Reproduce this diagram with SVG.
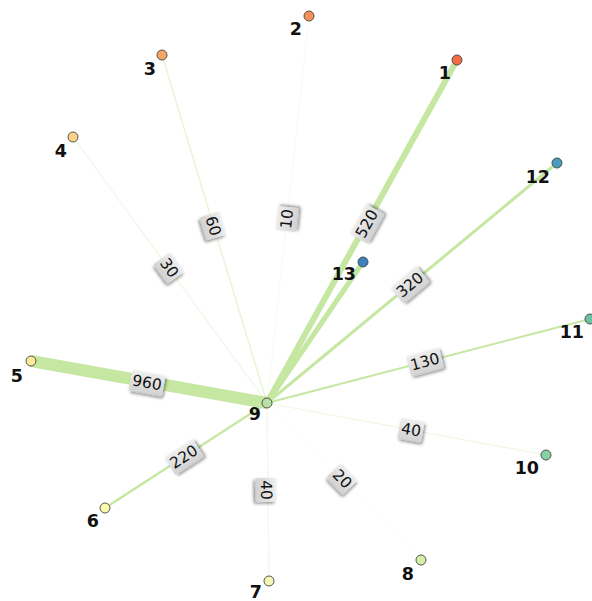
<svg xmlns="http://www.w3.org/2000/svg" width="592" height="601" viewBox="0 0 592 601">
<style>
.e{stroke:#c6e7a2;stroke-linecap:butt;fill:none}
.n circle{stroke:#444;stroke-width:0.9}
.n text{font-family:"DejaVu Sans",Verdana,sans-serif;font-weight:bold;font-size:17.5px;fill:#111;text-anchor:end}
.lb rect{fill:url(#g);filter:url(#sh)}
.lb text{font-family:"DejaVu Sans",Verdana,sans-serif;font-size:15.5px;fill:#111;text-anchor:middle;dominant-baseline:central}
</style>
<defs>
<linearGradient id="g" x1="0" y1="0" x2="0" y2="1"><stop offset="0" stop-color="#eeeeee"/><stop offset="1" stop-color="#d2d2d2"/></linearGradient>
<filter id="sh" x="-30%" y="-40%" width="170%" height="190%"><feDropShadow dx="1.5" dy="2" stdDeviation="1.5" flood-color="#000" flood-opacity="0.45"/></filter>
</defs>
<rect width="592" height="601" fill="#fff"/>
<g id="connectors">
<line class="e" x1="267" y1="403" x2="31" y2="361" stroke-width="12"/>
<line class="e" x1="267" y1="403" x2="457" y2="60" stroke-width="6"/>
<line class="e" x1="267" y1="403" x2="363" y2="262" stroke-width="5"/>
<line class="e" x1="267" y1="403" x2="557" y2="163" stroke-width="3"/>
<line class="e" x1="267" y1="403" x2="105" y2="508" stroke-width="2.5"/>
<line class="e" x1="267" y1="403" x2="590" y2="319" stroke-width="2"/>
<line class="e" x1="267" y1="403" x2="162" y2="55" stroke-width="1.3" opacity="0.45"/>
<line class="e" x1="267" y1="403" x2="546" y2="455" stroke-width="1.2" opacity="0.3"/>
<line class="e" x1="267" y1="403" x2="269" y2="581" stroke-width="1.2" opacity="0.25"/>
<line class="e" x1="267" y1="403" x2="73" y2="137" stroke-width="1.2" opacity="0.3"/>
<line class="e" x1="267" y1="403" x2="421" y2="560" stroke-width="1" opacity="0.06"/>
<line class="e" x1="267" y1="403" x2="309" y2="16" stroke-width="1" opacity="0.15"/>
<g class="lb">
<g transform="translate(147,383) rotate(10)"><rect x="-17" y="-10.5" width="34" height="21" rx="2"/><text>960</text></g>
<g transform="translate(367,224) rotate(-61)"><rect x="-17" y="-10.5" width="34" height="21" rx="2"/><text>520</text></g>
<g transform="translate(410,285) rotate(-40)"><rect x="-17" y="-10.5" width="34" height="21" rx="2"/><text>320</text></g>
<g transform="translate(184,457) rotate(-33)"><rect x="-17" y="-10.5" width="34" height="21" rx="2"/><text>220</text></g>
<g transform="translate(425,362) rotate(-15)"><rect x="-17" y="-10.5" width="34" height="21" rx="2"/><text>130</text></g>
<g transform="translate(213,226) rotate(73)"><rect x="-12" y="-10.5" width="24" height="21" rx="2"/><text>60</text></g>
<g transform="translate(287,219) rotate(-84)"><rect x="-12" y="-10.5" width="24" height="21" rx="2"/><text>10</text></g>
<g transform="translate(169,268) rotate(54)"><rect x="-12" y="-10.5" width="24" height="21" rx="2"/><text>30</text></g>
<g transform="translate(266,490) rotate(89)"><rect x="-12" y="-10.5" width="24" height="21" rx="2"/><text>40</text></g>
<g transform="translate(342,479) rotate(46)"><rect x="-12" y="-10.5" width="24" height="21" rx="2"/><text>20</text></g>
<g transform="translate(411,430) rotate(10)"><rect x="-12" y="-10.5" width="24" height="21" rx="2"/><text>40</text></g>
</g>
</g>
<g id="n1" class="n"><circle cx="457" cy="60" r="5" fill="#f46d43"/><text x="451" y="79">1</text></g>
<g id="n2" class="n"><circle cx="309" cy="16" r="5" fill="#f5905a"/><text x="302" y="35">2</text></g>
<g id="n3" class="n"><circle cx="162" cy="55" r="5" fill="#f9a561"/><text x="156" y="75">3</text></g>
<g id="n4" class="n"><circle cx="73" cy="137" r="5" fill="#fcd28a"/><text x="67" y="157">4</text></g>
<g id="n5" class="n"><circle cx="31" cy="361" r="5" fill="#fee89a"/><text x="23" y="382">5</text></g>
<g id="n6" class="n"><circle cx="105" cy="508" r="5" fill="#fbfbb0"/><text x="99" y="527">6</text></g>
<g id="n7" class="n"><circle cx="269" cy="581" r="5" fill="#f3f7b6"/><text x="262" y="598">7</text></g>
<g id="n8" class="n"><circle cx="421" cy="560" r="5" fill="#d7eea6"/><text x="414" y="580">8</text></g>
<g id="n9" class="n"><circle cx="267" cy="403" r="5" fill="#b6e2a3"/><text x="261" y="420">9</text></g>
<g id="n10" class="n"><circle cx="546" cy="455" r="5" fill="#87d2a4"/><text x="539" y="474">10</text></g>
<g id="n11" class="n"><circle cx="590" cy="319" r="5" fill="#6cc1a5"/><text x="584" y="338">11</text></g>
<g id="n12" class="n"><circle cx="557" cy="163" r="5" fill="#4a9bbd"/><text x="550" y="183">12</text></g>
<g id="n13" class="n"><circle cx="363" cy="262" r="5" fill="#3a82c0"/><text x="356" y="280">13</text></g>
</svg>
